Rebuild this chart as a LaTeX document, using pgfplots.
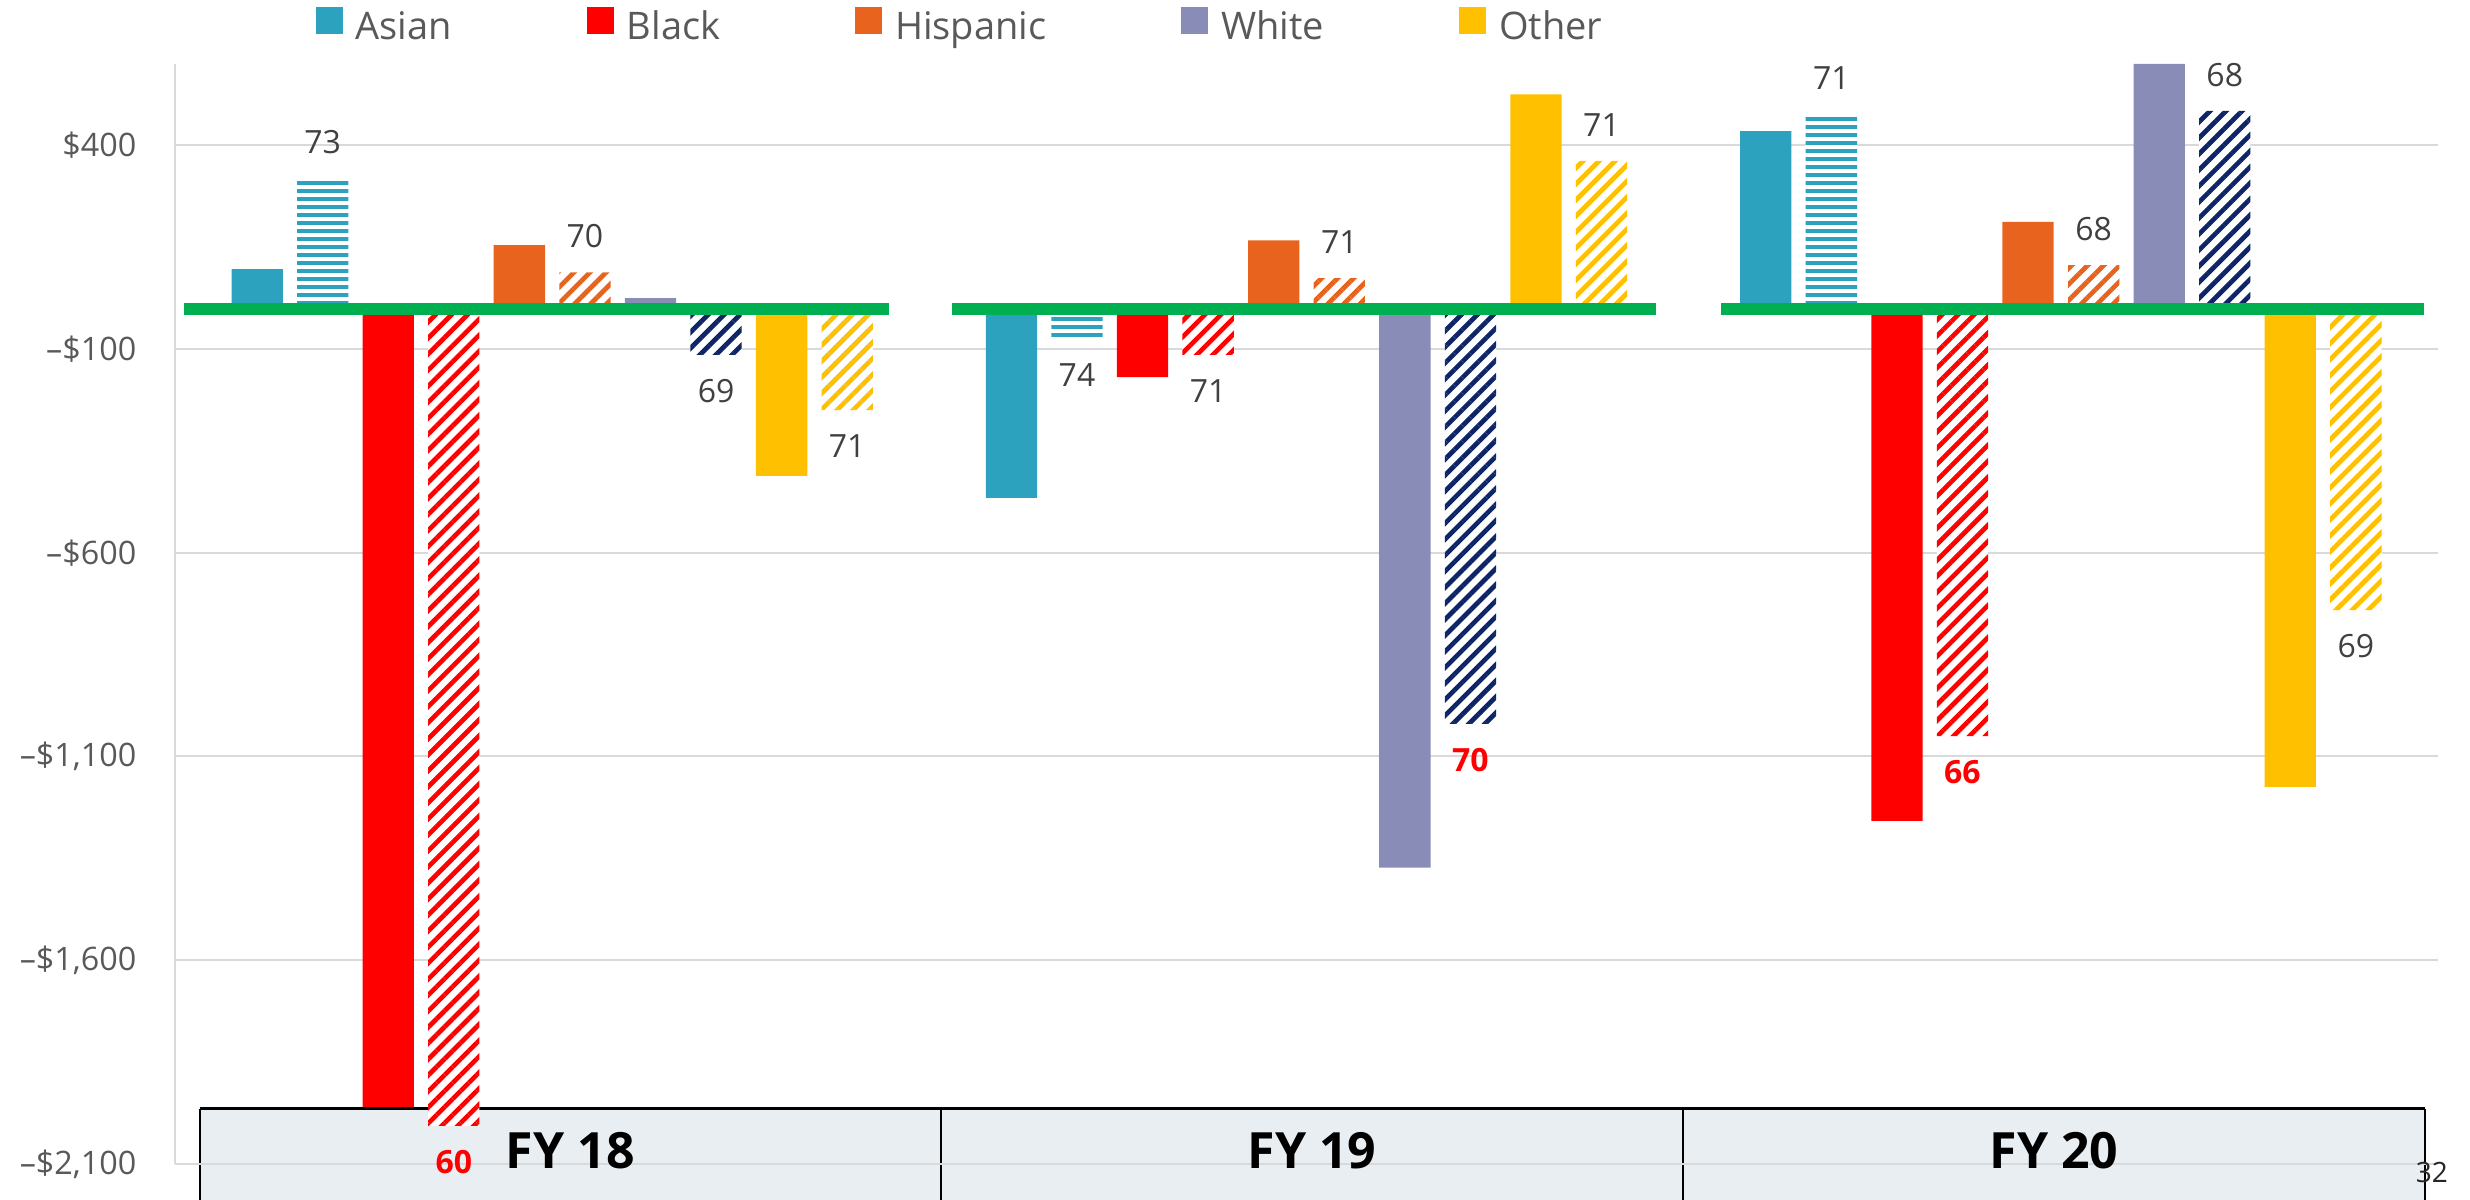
\documentclass[border=0pt]{standalone}
\usepackage{pgfplots}
\pgfplotsset{compat=1.18}
\usepackage{pgfplotstable}
\usepackage{fontspec}
\setmainfont{Open Sans}
\usetikzlibrary{patterns.meta}

\definecolor{asianc}{HTML}{2CA2BF}
\definecolor{blackc}{HTML}{FF0000}
\definecolor{hispc}{HTML}{E8641E}
\definecolor{whitec}{HTML}{888CB7}
\definecolor{whitehc}{HTML}{0E2567}
\definecolor{otherc}{HTML}{FFC000}
\definecolor{grnc}{HTML}{00AF50}
\definecolor{gridc}{HTML}{D9D9D9}
\definecolor{tickc}{HTML}{595959}
\definecolor{labc}{HTML}{404040}
\definecolor{tblc}{HTML}{E8EEF2}

% g = fiscal year group (1 = FY 18, 2 = FY 19, 3 = FY 20)
\pgfplotstableread{
g solid hatch lab red
1 96 319 73 0
2 -465 -75 74 0
3 435 477 71 0
}\asiantab
\pgfplotstableread{
g solid hatch lab red
1 -1960 -2007 60 1
2 -169 -114 71 0
3 -1258 -1050 66 1
}\blacktab
\pgfplotstableread{
g solid hatch lab red
1 155 88 70 0
2 167 74 71 0
3 212 106 68 0
}\hisptab
\pgfplotstableread{
g solid hatch lab red
1 25 -114 69 0
2 -1373 -1020 70 1
3 600 485 68 0
}\whitetab
\pgfplotstableread{
g solid hatch lab red
1 -411 -250 71 0
2 525 362 71 0
3 -1175 -741 69 0
}\othertab

\pgfplotsset{
  solidbar/.style={ybar, bar width=0.068, bar shift=0pt, draw=none, fill=#1, forget plot},
  hatchbar/.style 2 args={ybar, bar width=0.068, bar shift=0pt, draw=none, fill=white, forget plot,
     postaction={pattern={Lines[angle=#2,distance=3.4pt,line width=1.4pt]}, pattern color=#1}},
  hlinebar/.style={ybar, bar width=0.068, bar shift=0pt, draw=none, fill=white, forget plot,
     postaction={pattern={Lines[angle=0,distance=2.4pt,line width=1.15pt]}, pattern color=#1}},
  labels/.style={
     point meta=\thisrow{lab},
     visualization depends on={\thisrow{red} \as \isred},
     visualization depends on={\thisrow{hatch} \as \yval},
     nodes near coords={\ifdim\isred pt>0.5pt\color{red}\bfseries\fi\pgfmathprintnumber[assume math mode=true]{\pgfplotspointmeta}},
     every node near coord/.append style={font=\fontsize{9.6}{11}\selectfont, text=labc,
        inner sep=0pt, outer sep=0pt, anchor=center,
        yshift={\yval<0 ? -10.8pt : 10.8pt}}},
}

\begin{document}
\begin{tikzpicture}
\begin{axis}[
  set layers=standard,
  at={(0,0)}, anchor=south west,
  scale only axis, width=678.9pt, height=329.97pt,
  xmin=0.5, xmax=3.5, ymin=-2100, ymax=600,
  clip=false,
  axis x line=none,
  axis y line*=left,
  y axis line style={-, draw=gridc, line width=0.7pt},
  xtick=\empty,
  ytick={-2100,-1600,-1100,-600,-100,400},
  yticklabels={{–\$2,100},{–\$1,600},{–\$1,100},{–\$600},{–\$100},{\$400}},
  ymajorgrids,
  grid style={draw=gridc, line width=0.6pt},
  major tick length=0pt,
  ytick style={draw=none},
  yticklabel style={font=\fontsize{9.7}{11}\selectfont, text=tickc, inner sep=0pt, xshift=-11.4pt},
  legend columns=5,
  legend style={at={(0.0621,1.0515)}, anchor=north west, draw=none, fill=none,
    inner sep=0pt, outer sep=0pt,
    nodes={inner sep=0pt, text=tickc, font=\fontsize{11.4}{13}\selectfont},
    /tikz/every odd column/.append style={column sep=3.9pt},
    /tikz/every even column/.append style={column sep=40.5pt}},
]
% bottom category table (behind the grid)
\begin{pgfonlayer}{axis background}
\fill[tblc] (axis cs:0.5325,-1964.7) rectangle (axis cs:3.4825,-2260);
\draw[line width=0.6pt] (axis cs:0.5325,-2260) -- (axis cs:0.5325,-1964.7);
\draw[line width=0.6pt] (axis cs:1.5158,-2260) -- (axis cs:1.5158,-1964.7);
\draw[line width=0.6pt] (axis cs:2.4992,-2260) -- (axis cs:2.4992,-1964.7);
\draw[line width=0.6pt] (axis cs:3.4825,-2260) -- (axis cs:3.4825,-1964.7);
\draw[line width=0.85pt] (axis cs:0.5325,-1964.7) -- (axis cs:3.4825,-1964.7);
\end{pgfonlayer}

% Asian
\addplot[solidbar=asianc] table[x expr=\thisrow{g}-0.3911, y=solid] {\asiantab};
\addplot[hlinebar=asianc, labels] table[x expr=\thisrow{g}-0.3042, y=hatch] {\asiantab};
% Black
\addplot[solidbar=blackc] table[x expr=\thisrow{g}-0.2173, y=solid] {\blacktab};
\addplot[hatchbar={blackc}{45}, labels] table[x expr=\thisrow{g}-0.1304, y=hatch] {\blacktab};
% Hispanic
\addplot[solidbar=hispc] table[x expr=\thisrow{g}-0.0435, y=solid] {\hisptab};
\addplot[hatchbar={hispc}{45}, labels] table[x expr=\thisrow{g}+0.0435, y=hatch] {\hisptab};
% White
\addplot[solidbar=whitec] table[x expr=\thisrow{g}+0.1304, y=solid] {\whitetab};
\addplot[hatchbar={whitehc}{45}, labels] table[x expr=\thisrow{g}+0.2173, y=hatch] {\whitetab};
% Other
\addplot[solidbar=otherc] table[x expr=\thisrow{g}+0.3042, y=solid] {\othertab};
\addplot[hatchbar={otherc}{45}, labels] table[x expr=\thisrow{g}+0.3911, y=hatch] {\othertab};

% green baselines
\addplot[color=grnc, line width=3.6pt, mark=none, forget plot] coordinates {(0.512,-2) (1.446,-2)};
\addplot[color=grnc, line width=3.6pt, mark=none, forget plot] coordinates {(1.530,-2) (2.463,-2)};
\addplot[color=grnc, line width=3.6pt, mark=none, forget plot] coordinates {(2.550,-2) (3.482,-2)};

% legend
\addlegendimage{legend image code/.code={\fill[asianc] (0pt,-1.7pt) rectangle (7.7pt,6pt);}}
\addlegendentry{Asian}
\addlegendimage{legend image code/.code={\fill[blackc] (0pt,-1.7pt) rectangle (7.7pt,6pt);}}
\addlegendentry{Black}
\addlegendimage{legend image code/.code={\fill[hispc] (0pt,-1.7pt) rectangle (7.7pt,6pt);}}
\addlegendentry{Hispanic}
\addlegendimage{legend image code/.code={\fill[whitec] (0pt,-1.7pt) rectangle (7.7pt,6pt);}}
\addlegendentry{White}
\addlegendimage{legend image code/.code={\fill[otherc] (0pt,-1.7pt) rectangle (7.7pt,6pt);}}
\addlegendentry{Other}

% category labels in the table
\node[font=\bfseries\fontsize{15}{18}\selectfont] at (axis cs:1.024,-2067) {FY 18};
\node[font=\bfseries\fontsize{15}{18}\selectfont] at (axis cs:2.0075,-2067) {FY 19};
\node[font=\bfseries\fontsize{15}{18}\selectfont] at (axis cs:2.991,-2067) {FY 20};
\node[font=\fontsize{8.4}{10}\selectfont, text=black!85] at (axis cs:3.4918,-2121.7) {32};
\end{axis}
\pgfresetboundingbox
\path[use as bounding box] (-52.5pt,-10.56pt) rectangle (688.5pt,349.14pt);
\end{tikzpicture}
\end{document}
